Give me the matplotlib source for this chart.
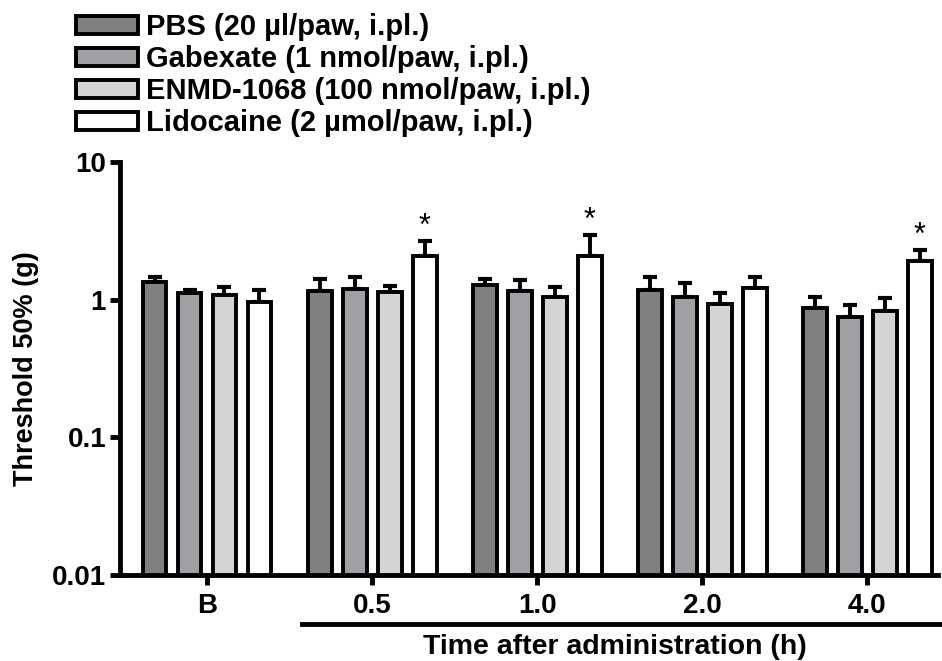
import numpy as np
import matplotlib as mpl
mpl.use('Agg')
import matplotlib.pyplot as plt

plt.rcParams['font.family'] = ['Liberation Sans', 'DejaVu Sans']
plt.rcParams['font.weight'] = 'bold'

time_labels = ['B', '0.5', '1.0', '2.0', '4.0']
groups = ['PBS (20 µl/paw, i.pl.)', 'Gabexate (1 nmol/paw, i.pl.)',
          'ENMD-1068 (100 nmol/paw, i.pl.)', 'Lidocaine (2 µmol/paw, i.pl.)']
colors = ['#808080', '#a0a0a4', '#d4d4d4', '#ffffff']

pbs = [1.34, 1.15, 1.28, 1.18, 0.87]
pbs_err = [0.11, 0.26, 0.13, 0.27, 0.17]
gabexate = [1.12, 1.19, 1.15, 1.04, 0.75]
gabexate_err = [0.06, 0.26, 0.23, 0.28, 0.16]
enmd = [1.08, 1.13, 1.04, 0.93, 0.83]
enmd_err = [0.15, 0.12, 0.19, 0.19, 0.19]
lido = [0.96, 2.07, 2.07, 1.21, 1.91]
lido_err = [0.22, 0.59, 0.87, 0.24, 0.38]
significant = [False, True, True, False, True]

means = [pbs, gabexate, enmd, lido]
errs = [pbs_err, gabexate_err, enmd_err, lido_err]

fig = plt.figure(figsize=(9.42, 6.61), dpi=100)
ax = fig.add_axes([0.1274, 0.1301, 0.8686, 0.625])

x = np.arange(len(time_labels))
w = 0.145
step = 0.212
for i in range(4):
    xpos = x + (i - 1.5) * step
    ax.bar(xpos, means[i], w, bottom=0.001, color=colors[i], edgecolor='black',
           linewidth=2.8, label=groups[i], zorder=2)
    ax.errorbar(xpos, means[i], yerr=[np.zeros(5), errs[i]], fmt='none',
                ecolor='black', elinewidth=2.8, capsize=5, capthick=3, zorder=1)

for j in range(5):
    if significant[j]:
        ax.text(x[j] + 1.5 * step, (lido[j] + lido_err[j]) * 0.98, '*', ha='center',
                va='bottom', fontsize=22, fontweight='normal')

ax.set_yscale('log')
ax.set_ylim(0.01, 10)
ax.set_yticks([0.01, 0.1, 1, 10])
ax.set_yticklabels(['0.01', '0.1', '1', '10'])
ax.yaxis.set_minor_locator(mpl.ticker.NullLocator())
ax.set_xlim(-0.527, 4.43)
ax.set_xticks(x)
ax.set_xticklabels(time_labels)
ax.tick_params(axis='both', width=3.5, length=7, labelsize=20)
ax.tick_params(axis='x', pad=6)
ax.tick_params(axis='y', pad=3)

for s in ['top', 'right']:
    ax.spines[s].set_visible(False)
for s in ['left', 'bottom']:
    ax.spines[s].set_linewidth(3.5)

ax.set_ylabel('Threshold 50% (g)', fontsize=19.5, fontweight='bold', labelpad=9)

# line under the post-drug time points
fig.add_artist(plt.Line2D([302 / 942, 940 / 942], [1 - 624 / 661, 1 - 624 / 661],
                          color='black', linewidth=3.5))
fig.text(615 / 942, 1 - 647 / 661, 'Time after administration (h)', ha='center',
         va='center', fontsize=20.5, fontweight='bold')

fig.legend(loc='upper left', bbox_to_anchor=(0.075, 0.989), frameon=False, fontsize=21,
           handlelength=2.1, handleheight=0.55, handletextpad=0.3, labelspacing=0.14,
           borderpad=0.1, borderaxespad=0.1)

plt.savefig('out.png', dpi=100)
